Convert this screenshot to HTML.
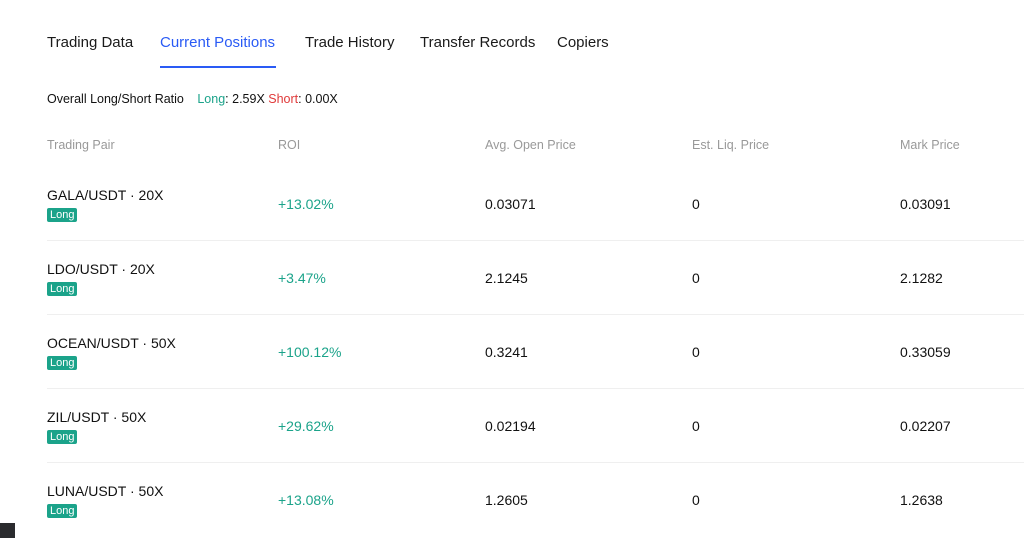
<!DOCTYPE html>
<html><head><style>
body{margin:0;width:1024px;height:538px;background:#fff;font-family:"Liberation Sans",sans-serif;position:relative;overflow:hidden;color:#111}
.a{position:absolute;white-space:nowrap}
.tab{top:34px;font-size:15px;color:#1a1a1a}
.hd{top:138px;font-size:12.5px;color:#999}
.pair{font-size:14px;color:#111}
.badge{font-size:11px;color:#fff;background:#1ba38a;border-radius:2px;padding:0 3px;line-height:14px;height:14px}
.roi{font-size:14px;color:#1ba38a}
.v{font-size:14px;color:#111}
.line{position:absolute;left:47px;right:0;height:1px;background:#efefef}
</style></head><body>
<div class="a tab" style="left:47px">Trading Data</div>
<div class="a tab" style="left:160px;color:#2a5bf5">Current Positions</div>
<div class="a" style="left:160px;top:66px;width:116px;height:2px;background:#2a5bf5"></div>
<div class="a tab" style="left:305px">Trade History</div>
<div class="a tab" style="left:420px">Transfer Records</div>
<div class="a tab" style="left:557px">Copiers</div>
<div class="a" style="left:47px;top:92px;font-size:12.5px">Overall Long/Short Ratio <span style="margin-left:10px;color:#1ba38a">Long</span>: 2.59X <span style="color:#e03a3a">Short</span>: 0.00X</div>
<div class="a hd" style="left:47px">Trading Pair</div>
<div class="a hd" style="left:278px">ROI</div>
<div class="a hd" style="left:485px">Avg. Open Price</div>
<div class="a hd" style="left:692px">Est. Liq. Price</div>
<div class="a hd" style="left:900px">Mark Price</div>

<div class="a pair" style="left:47px;top:187px">GALA/USDT · 20X</div>
<div class="a badge" style="left:47px;top:208px">Long</div>
<div class="a roi" style="left:278px;top:196px">+13.02%</div>
<div class="a v" style="left:485px;top:196px">0.03071</div>
<div class="a v" style="left:692px;top:196px">0</div>
<div class="a v" style="left:900px;top:196px">0.03091</div>
<div class="line" style="top:240px"></div>

<div class="a pair" style="left:47px;top:261px">LDO/USDT · 20X</div>
<div class="a badge" style="left:47px;top:282px">Long</div>
<div class="a roi" style="left:278px;top:270px">+3.47%</div>
<div class="a v" style="left:485px;top:270px">2.1245</div>
<div class="a v" style="left:692px;top:270px">0</div>
<div class="a v" style="left:900px;top:270px">2.1282</div>
<div class="line" style="top:314px"></div>

<div class="a pair" style="left:47px;top:335px">OCEAN/USDT · 50X</div>
<div class="a badge" style="left:47px;top:356px">Long</div>
<div class="a roi" style="left:278px;top:344px">+100.12%</div>
<div class="a v" style="left:485px;top:344px">0.3241</div>
<div class="a v" style="left:692px;top:344px">0</div>
<div class="a v" style="left:900px;top:344px">0.33059</div>
<div class="line" style="top:388px"></div>

<div class="a pair" style="left:47px;top:409px">ZIL/USDT · 50X</div>
<div class="a badge" style="left:47px;top:430px">Long</div>
<div class="a roi" style="left:278px;top:418px">+29.62%</div>
<div class="a v" style="left:485px;top:418px">0.02194</div>
<div class="a v" style="left:692px;top:418px">0</div>
<div class="a v" style="left:900px;top:418px">0.02207</div>
<div class="line" style="top:462px"></div>

<div class="a pair" style="left:47px;top:483px">LUNA/USDT · 50X</div>
<div class="a badge" style="left:47px;top:504px">Long</div>
<div class="a roi" style="left:278px;top:492px">+13.08%</div>
<div class="a v" style="left:485px;top:492px">1.2605</div>
<div class="a v" style="left:692px;top:492px">0</div>
<div class="a v" style="left:900px;top:492px">1.2638</div>

<div class="a" style="left:0;top:523px;width:15px;height:15px;background:#2a2b2e"></div>
</body></html>
